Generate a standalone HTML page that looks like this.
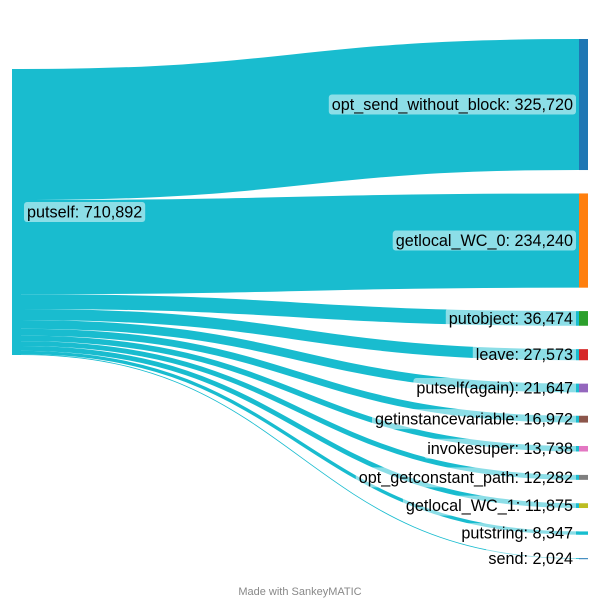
<!DOCTYPE html>
<html><head><meta charset="utf-8"><style>
body{margin:0;background:#fff;width:600px;height:600px;overflow:hidden}
svg{display:block;font-family:"Liberation Sans",sans-serif}
</style></head><body>
<svg id="chart" width="600" height="600">
<g id="flows"></g>
<g id="nodes"></g>
<g id="labels"></g>
<text x="300" y="595" text-anchor="middle" font-size="11" fill="#888">Made with SankeyMATIC</text>
</svg>
<script>
const sourceName = "putself";
const targetNames = ["opt_send_without_block","getlocal_WC_0","putobject","leave","putself(again)","getinstancevariable","invokesuper","opt_getconstant_path","getlocal_WC_1","putstring","send"];
const targetValues = [325720,234240,36474,27573,21647,16972,13738,12282,11875,8347,2024];
const targetColors = ["#1f77b4","#ff7f0e","#2ca02c","#d62728","#9467bd","#8c564b","#e377c2","#7f7f7f","#bcbd22","#17becf","#1f77b4"];
const NS="http://www.w3.org/2000/svg";
const total = targetValues.reduce((a,b)=>a+b,0);
const k = 286/total;
const gap = (520 - total*k)/(targetValues.length-1);
const srcTop = 69, srcX0 = 12, srcX1 = 21, tX0 = 579, tX1 = 588;
const flowColor = "#19bccf";
const fmt = v => v.toLocaleString("en-US");
const flows=document.getElementById("flows"), nodes=document.getElementById("nodes"), labels=document.getElementById("labels");
function mk(tag, attrs, parent){const e=document.createElementNS(NS,tag);for(const a in attrs)e.setAttribute(a,attrs[a]);parent.appendChild(e);return e;}
function label(text, x, y, anchor, name){
  const g=mk("g",{},labels);
  
  
  const t=mk("text",{x:x,y:y+5.5,"text-anchor":anchor,"font-size":"16.2",fill:"#000"},g);
  t.textContent=text;
  const bb=t.getBBox();
  const r=mk("rect",{x:bb.x-3,y:y-10,width:bb.width+6,height:20,rx:3,fill:"#fff","fill-opacity":"0.5"},g);
  g.insertBefore(r,t);
}
const srcH = total*k;
const sn = mk("rect",{x:srcX0,y:srcTop,width:srcX1-srcX0,height:srcH,fill:flowColor},nodes);


let sy = srcTop, ty = 39;
const mx = (srcX1+tX0)/2;
targetValues.forEach((v,i)=>{
  const h=v*k;
  const y0=sy+h/2, y1=ty+h/2;
  const p=mk("path",{d:`M${srcX1},${y0} C${mx},${y0} ${mx},${y1} ${tX0},${y1}`,fill:"none",stroke:flowColor,"stroke-width":Math.max(h,0.8)},flows);
  
  
  const r=mk("rect",{x:tX0,y:ty,width:tX1-tX0,height:Math.max(h,1),fill:targetColors[i]},nodes);
  
  
  label(targetNames[i]+": "+fmt(v), 573, ty+h/2, "end", 'label-'+targetNames[i]);
  sy+=h; ty+=h+gap;
});
label(sourceName+": "+fmt(total), 27, srcTop+srcH/2, "start", 'label-putself');
</script>
</body></html>
